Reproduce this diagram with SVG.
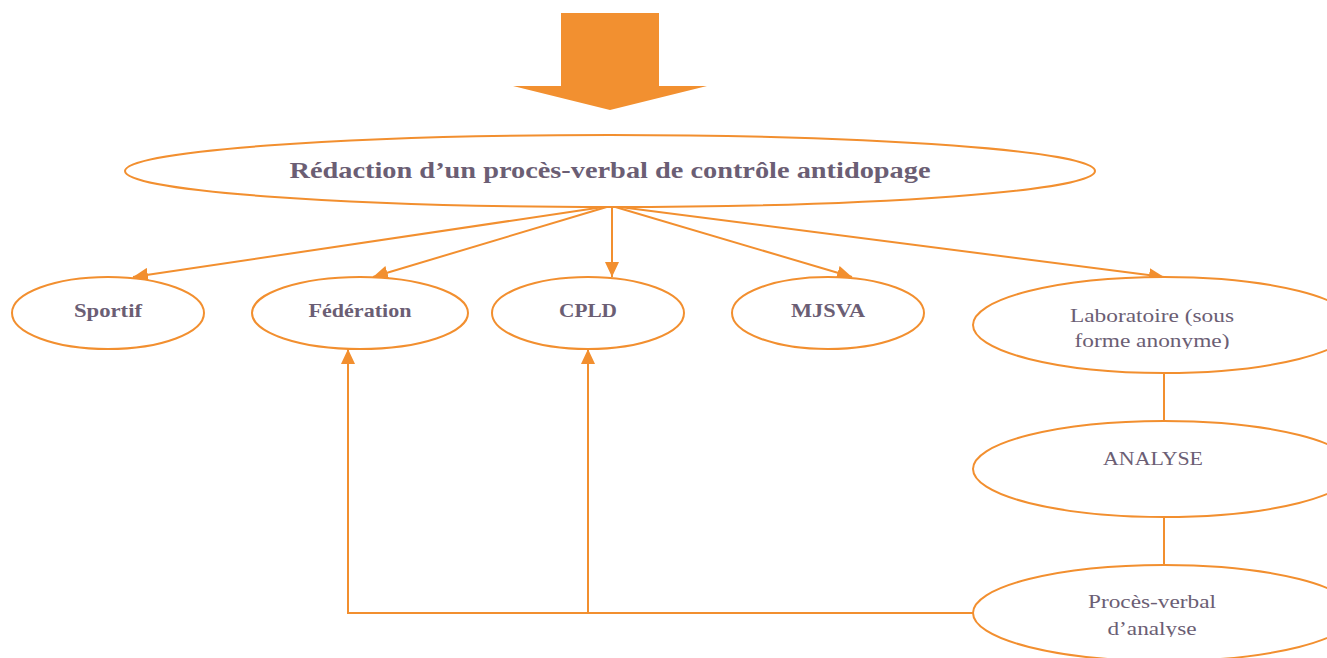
<svg xmlns="http://www.w3.org/2000/svg" width="1327" height="658" viewBox="0 0 1327 658">
<defs>
<style>
.n{fill:#fff;stroke:#F28F2F;stroke-width:2}
.c{fill:none;stroke:#F28F2F;stroke-width:2}
.tb{font-family:"Liberation Serif",serif;font-weight:bold;fill:#6B5E74;text-anchor:middle}
.tr{font-family:"Liberation Serif",serif;fill:#6B5E74;text-anchor:middle;font-size:19px}
</style>
<marker id="ah" markerUnits="userSpaceOnUse" markerWidth="16" markerHeight="14" refX="15" refY="7" orient="auto">
<path d="M0,0 L15,7 L0,14 Z" fill="#F28F2F"/>
</marker>
<clipPath id="clipLab"><rect x="960" y="290" width="367" height="59"/></clipPath>
<clipPath id="clipPV"><rect x="960" y="580" width="367" height="57"/></clipPath>
</defs>
<rect width="1327" height="658" fill="#fff"/>
<g id="bigArrow">
<polygon points="561,13 659,13 659,86 707,86 610,110 513,86 561,86" fill="#F29030"/>
</g>
<g id="connectors">
<path class="c" d="M610,206 L133,277" marker-end="url(#ah)"/>
<path class="c" d="M610,206 L373,277" marker-end="url(#ah)"/>
<path class="c" d="M612,206 L612,277" marker-end="url(#ah)"/>
<path class="c" d="M612,206 L852,277" marker-end="url(#ah)"/>
<path class="c" d="M612,206 L1164,277" marker-end="url(#ah)"/>
<path class="c" d="M1164,373 L1164,421"/>
<path class="c" d="M1164,517 L1164,565"/>
<path class="c" d="M973,613 L348,613 L348,349" marker-end="url(#ah)"/>
<path class="c" d="M588,613 L588,349" marker-end="url(#ah)"/>
</g>
<g id="title">
<ellipse class="n" cx="610" cy="171" rx="485" ry="36" fill="none"/>
<text class="tb" x="610" y="178" font-size="24" textLength="641" lengthAdjust="spacingAndGlyphs">Rédaction d’un procès-verbal de contrôle antidopage</text>
</g>
<g id="sportif">
<ellipse class="n" cx="108" cy="313" rx="96" ry="36"/>
<text class="tb" x="108" y="317" font-size="19" textLength="68" lengthAdjust="spacingAndGlyphs">Sportif</text>
</g>
<g id="federation">
<ellipse class="n" cx="360" cy="313" rx="108" ry="36"/>
<text class="tb" x="360" y="317" font-size="19" textLength="103" lengthAdjust="spacingAndGlyphs">Fédération</text>
</g>
<g id="cpld">
<ellipse class="n" cx="588" cy="313" rx="96" ry="36"/>
<text class="tb" x="588" y="317" font-size="19" textLength="58" lengthAdjust="spacingAndGlyphs">CPLD</text>
</g>
<g id="mjsva">
<ellipse class="n" cx="828" cy="313" rx="96" ry="36"/>
<text class="tb" x="828" y="317" font-size="19" textLength="74" lengthAdjust="spacingAndGlyphs">MJSVA</text>
</g>
<g id="laboratoire">
<ellipse class="n" cx="1164" cy="325" rx="191" ry="48"/>
<g clip-path="url(#clipLab)">
<text class="tr" x="1152" y="322" textLength="164" lengthAdjust="spacingAndGlyphs">Laboratoire (sous</text>
<text class="tr" x="1152" y="347" textLength="155" lengthAdjust="spacingAndGlyphs">forme anonyme)</text>
</g>
</g>
<g id="analyse">
<ellipse class="n" cx="1164" cy="469" rx="191" ry="48"/>
<text class="tr" x="1153" y="465" textLength="100" lengthAdjust="spacingAndGlyphs">ANALYSE</text>
</g>
<g id="pv">
<ellipse class="n" cx="1164" cy="613" rx="191" ry="48"/>
<g clip-path="url(#clipPV)">
<text class="tr" x="1152" y="608" textLength="128" lengthAdjust="spacingAndGlyphs">Procès-verbal</text>
<text class="tr" x="1152" y="635" textLength="89" lengthAdjust="spacingAndGlyphs">d’analyse</text>
</g>
</g>
</svg>
